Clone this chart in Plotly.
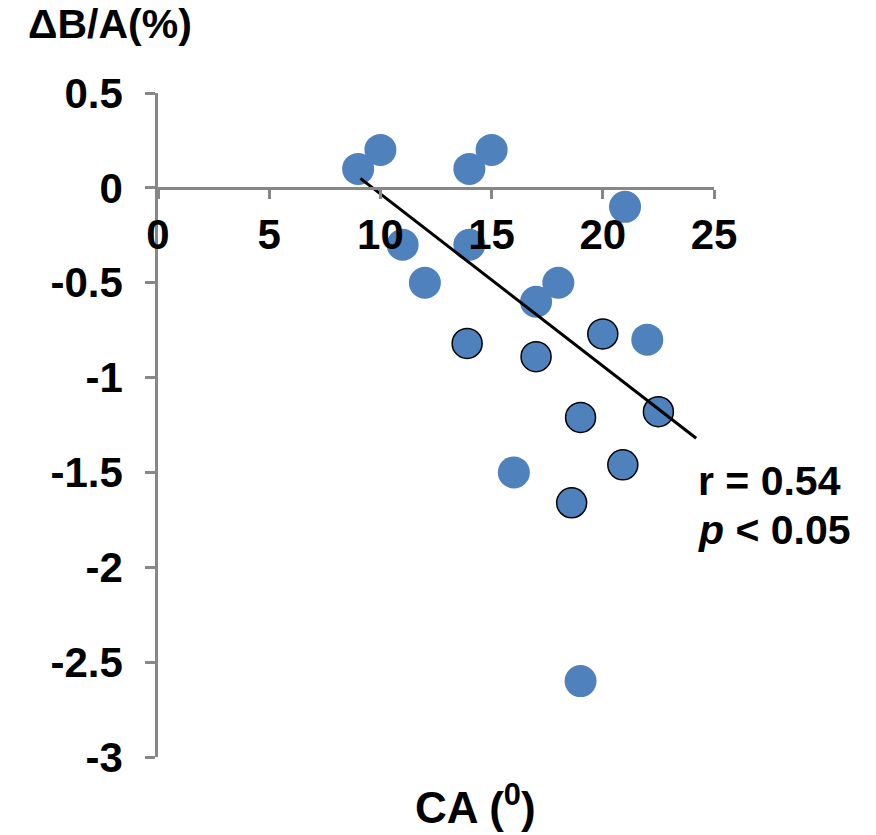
import plotly.graph_objects as go

# Data
plain_ca = [9, 10, 14, 15, 21, 11, 14, 12, 18, 17, 22, 16, 19]
plain_dba = [0.1, 0.2, 0.1, 0.2, -0.1, -0.3, -0.3, -0.5, -0.5, -0.6, -0.8, -1.5, -2.6]
outl_ca = [13.9, 17, 20, 19, 22.5, 20.9, 18.6]
outl_dba = [-0.82, -0.89, -0.77, -1.21, -1.18, -1.46, -1.66]
trend_ca = [9.1, 24.2]
trend_dba = [0.05, -1.32]
x_ticks = [0, 5, 10, 15, 20, 25]
y_ticks = [0.5, 0, -0.5, -1, -1.5, -2, -2.5, -3]
y_tick_text = ["0.5", "0", "-0.5", "-1", "-1.5", "-2", "-2.5", "-3"]

BLUE = "#4F81BD"
AXIS = "#878787"
FONT = "Liberation Sans, Arial, sans-serif"

W, H = 876, 835
L, R, T, B = 158, 162, 93, 78
pw, ph = W - L - R, H - T - B


def px(x):
    return (x - L) / pw


def py(y):
    return (H - B - y) / ph


fig = go.Figure()
fig.add_trace(go.Scatter(x=plain_ca, y=plain_dba, mode="markers",
                         marker=dict(size=32, color=BLUE, line=dict(width=0)),
                         showlegend=False))
fig.add_trace(go.Scatter(x=outl_ca, y=outl_dba, mode="markers",
                         marker=dict(size=30, color=BLUE, line=dict(width=1.5, color="black")),
                         showlegend=False))
fig.add_trace(go.Scatter(x=trend_ca, y=trend_dba, mode="lines",
                         line=dict(color="black", width=3), showlegend=False))

ymin, ymax = -3, 0.5
fig.update_layout(
    width=W, height=H,
    margin=dict(l=L, r=R, t=T, b=B, pad=0),
    paper_bgcolor="white", plot_bgcolor="white",
    font=dict(family=FONT, color="black"),
    xaxis=dict(range=[0, 25], tickvals=x_ticks, ticks="outside", ticklen=9,
               tickwidth=2.5, tickcolor=AXIS, showline=True, linecolor=AXIS,
               linewidth=2.5, showgrid=False, zeroline=False,
               anchor="free", position=(0 - ymin) / (ymax - ymin),
               tickfont=dict(size=42, family=FONT, weight="bold", color="black"),
               ticklabelstandoff=0),
    yaxis=dict(range=[ymin, ymax], tickvals=y_ticks, ticktext=y_tick_text,
               ticks="outside", ticklen=10, tickwidth=2.5, tickcolor=AXIS,
               showline=True, linecolor=AXIS, linewidth=2.5, showgrid=False,
               zeroline=False,
               tickfont=dict(size=42, family=FONT, weight="bold", color="black"),
               ticklabelstandoff=14),
)

ann_font = dict(family=FONT, size=41, color="black", weight="bold")
fig.add_annotation(text="ΔB/A(%)", xref="paper", yref="paper",
                   x=px(110), y=py(24), xanchor="center", yanchor="middle",
                   showarrow=False, font=ann_font)
fig.add_annotation(text="CA (<sup>0</sup>)", xref="paper", yref="paper",
                   x=px(475), y=py(834), xanchor="center", yanchor="bottom",
                   showarrow=False, font=dict(family=FONT, size=44, color="black", weight="bold"))
fig.add_annotation(text="r = 0.54", xref="paper", yref="paper",
                   x=px(696), y=py(481), xanchor="left", yanchor="middle",
                   showarrow=False, font=ann_font)
fig.add_annotation(text="<i>p</i> < 0.05", xref="paper", yref="paper",
                   x=px(696), y=py(530), xanchor="left", yanchor="middle",
                   showarrow=False, font=ann_font)

fig.write_html("out.html")
